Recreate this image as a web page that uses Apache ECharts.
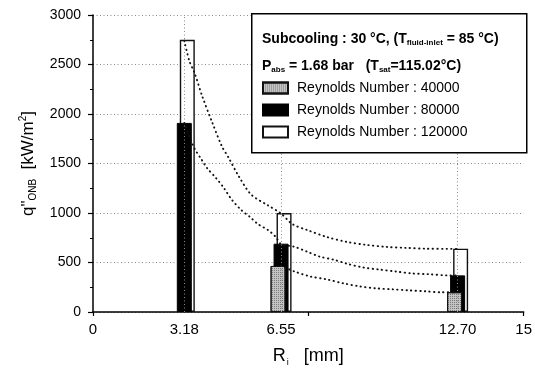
<!DOCTYPE html>
<html>
<head>
<meta charset="utf-8">
<script src="https://cdn.jsdelivr.net/npm/echarts@6/dist/echarts.min.js"></script>
<style>
html,body{margin:0;padding:0;background:#fff;}
#chart{width:535px;height:372px;}
</style>
</head>
<body>
<div id="chart"></div>
<script>
// ---- data ----
const xTickValues = [0, 3.18, 6.55, 12.70, 15];
const xTickLabels = ['0', '3.18', '6.55', '12.70', '15'];
const radii = [3.18, 6.55, 12.70];
const seriesNames = ['Reynolds Number : 40000', 'Reynolds Number : 80000', 'Reynolds Number : 120000'];
const re40000 = [null, 465, 200];
const re80000 = [1910, 690, 370];
const re120000 = [2750, 1000, 640];

// dotted trend curves
const curve120000X = [3.18, 3.36, 3.53, 3.80, 4.14, 4.49, 4.73, 5.07, 5.51, 6.10, 6.54, 6.95, 7.47, 8.15, 8.84, 9.52, 10.21, 10.89, 11.58, 12.36, 12.70];
const curve120000Y = [2740, 2532, 2422, 2183, 1924, 1674, 1555, 1375, 1186, 1076, 997, 887, 827, 757, 708, 678, 658, 648, 640, 638, 638];
const curve80000X = [3.18, 3.53, 3.77, 3.97, 4.28, 4.55, 4.83, 5.14, 5.48, 5.75, 6.10, 6.37, 6.54, 7.02, 7.47, 7.91, 8.39, 8.84, 9.42, 9.97, 10.55, 11.13, 11.68, 12.36, 12.70];
const curve80000Y = [1910, 1655, 1545, 1455, 1355, 1256, 1136, 1037, 957, 887, 827, 757, 688, 658, 608, 558, 528, 488, 449, 429, 409, 389, 382, 369, 368];
const curve40000X = [6.54, 7.02, 7.57, 8.15, 8.73, 9.28, 9.86, 10.45, 10.99, 11.58, 12.16, 12.64];
const curve40000Y = [468, 409, 359, 329, 289, 259, 239, 229, 219, 209, 199, 199];

const yAxisMin = 0, yAxisMax = 3000, yAxisInterval = 500;
const xAxisMin = 0, xAxisMax = 15, xAxisInterval = 7.5;

// ---- chart ----
const FONT = '"Liberation Sans", Arial, Helvetica, sans-serif';
const chart = echarts.init(document.getElementById('chart'), null, {renderer: 'canvas'});
const pairs = (xs, ys) => xs.map((x, i) => [x, ys[i]]);
const barData = vals => radii.map((r, i) => [r, vals[i]]);

const lineStyleDotted = {color: '#111', width: 1.9, type: [0.4, 4.2], cap: 'round'};

const option = {
  animation: false,
  backgroundColor: '#fff',
  textStyle: {fontFamily: FONT},
  grid: {left: 93, right: 5, top: 15, bottom: 56, containLabel: false},
  xAxis: {
    type: 'value', min: xAxisMin, max: xAxisMax, interval: xAxisInterval,
    name: 'R{sub|i}   [mm]',
    nameLocation: 'middle', nameGap: 34,
    nameTextStyle: {fontSize: 18, color: '#000', fontFamily: FONT,
      rich: {sub: {fontSize: 9, verticalAlign: 'bottom', padding: [12, 0, 0, 1], fontFamily: FONT}}},
    axisLine: {show: true, lineStyle: {color: '#000', width: 1.5}},
    axisTick: {show: true, length: 4, lineStyle: {color: '#000', width: 1.2}},
    axisLabel: {
      customValues: xTickValues,
      formatter: v => { const i = xTickValues.findIndex(t => Math.abs(t - v) < 1e-6); return i >= 0 ? xTickLabels[i] : ''; },
      fontSize: 15, color: '#000', margin: 10, fontFamily: FONT, hideOverlap: false
    },
    splitLine: {show: false}
  },
  yAxis: {
    type: 'value', min: yAxisMin, max: yAxisMax, interval: yAxisInterval,
    name: 'q"{sub|ONB}  [kW/m{sup|2}]',
    nameLocation: 'middle', nameGap: 55, nameRotate: 90,
    nameTextStyle: {fontSize: 17, color: '#000', fontFamily: FONT,
      rich: {
        sub: {fontSize: 10, padding: [10, 0, 0, 0], fontFamily: FONT},
        sup: {fontSize: 10, padding: [0, 0, 10, 0], fontFamily: FONT}
      }},
    axisLine: {show: true, lineStyle: {color: '#000', width: 1.5}},
    axisTick: {show: true, length: 5, lineStyle: {color: '#000', width: 1.2}},
    minorTick: {show: true, splitNumber: 2, length: 3, lineStyle: {color: '#000', width: 1}},
    axisLabel: {fontSize: 14, color: '#000', margin: 12, fontFamily: FONT, formatter: v => String(v)},
    splitLine: {show: true, lineStyle: {color: '#8a8a8a', width: 1, type: [1, 2.5]}}
  },
  legend: {
    show: true, orient: 'vertical', left: 257, top: 76, z: 20,
    icon: 'rect', itemWidth: 25, itemHeight: 11, itemGap: 8,
    data: seriesNames,
    textStyle: {fontSize: 14, color: '#000', fontFamily: FONT, padding: [0, 0, 0, 4]},
    selectedMode: false
  },
  graphic: [
    {type: 'rect', z: 10, left: 251, top: 13, shape: {x: 0, y: 0, width: 275, height: 139},
      style: {fill: '#fff', stroke: '#000', lineWidth: 1.5}},
    {type: 'text', z: 11, left: 262, top: 32,
      style: {text: 'Subcooling : 30 °C, (T{sub|fluid-inlet} = 85 °C)',
        font: 'bold 14px ' + FONT, fill: '#000',
        rich: {sub: {fontSize: 8, fontWeight: 'bold', padding: [8, 0, 0, 0], fontFamily: FONT}}}},
    {type: 'text', z: 11, left: 262, top: 59,
      style: {text: 'P{sub|abs} = 1.68 bar   (T{sub|sat}=115.02°C)',
        font: 'bold 14px ' + FONT, fill: '#000',
        rich: {sub: {fontSize: 8, fontWeight: 'bold', padding: [8, 0, 0, 0], fontFamily: FONT}}}}
  ],
  series: [
    {
      type: 'line', name: 'gridRef', z: 1, data: [], silent: true,
      markLine: {silent: true, symbol: 'none', label: {show: false},
        lineStyle: {color: '#8a8a8a', width: 1, type: [1, 2.5]},
        data: radii.map(r => ({xAxis: r}))}
    },
    {
      type: 'bar', name: seriesNames[0], z: 4, barWidth: 15, barGap: '-80%',
      data: barData(re40000),
      itemStyle: {color: '#c4c4c4', borderColor: '#111', borderWidth: 1,
        decal: {symbol: 'rect', symbolSize: 1, dashArrayX: [1, 1], dashArrayY: [1, 1], color: 'rgba(60,60,60,0.55)', rotation: 0}}
    },
    {
      type: 'bar', name: seriesNames[1], z: 3, barWidth: 15, barGap: '-80%',
      data: barData(re80000),
      itemStyle: {color: '#000', borderColor: '#000', borderWidth: 1}
    },
    {
      type: 'bar', name: seriesNames[2], z: 2, barWidth: 15, barGap: '-80%',
      data: barData(re120000),
      itemStyle: {color: '#fff', borderColor: '#111', borderWidth: 1.4}
    },
    {type: 'line', name: 'fit120000', z: 6, data: pairs(curve120000X, curve120000Y), smooth: 0.3,
      showSymbol: false, symbol: 'none', lineStyle: lineStyleDotted, silent: true},
    {type: 'line', name: 'fit80000', z: 6, data: pairs(curve80000X, curve80000Y), smooth: 0.3,
      showSymbol: false, symbol: 'none', lineStyle: lineStyleDotted, silent: true},
    {type: 'line', name: 'fit40000', z: 6, data: pairs(curve40000X, curve40000Y), smooth: 0.3,
      showSymbol: false, symbol: 'none', lineStyle: lineStyleDotted, silent: true}
  ]
};
chart.setOption(option);
</script>
</body>
</html>
